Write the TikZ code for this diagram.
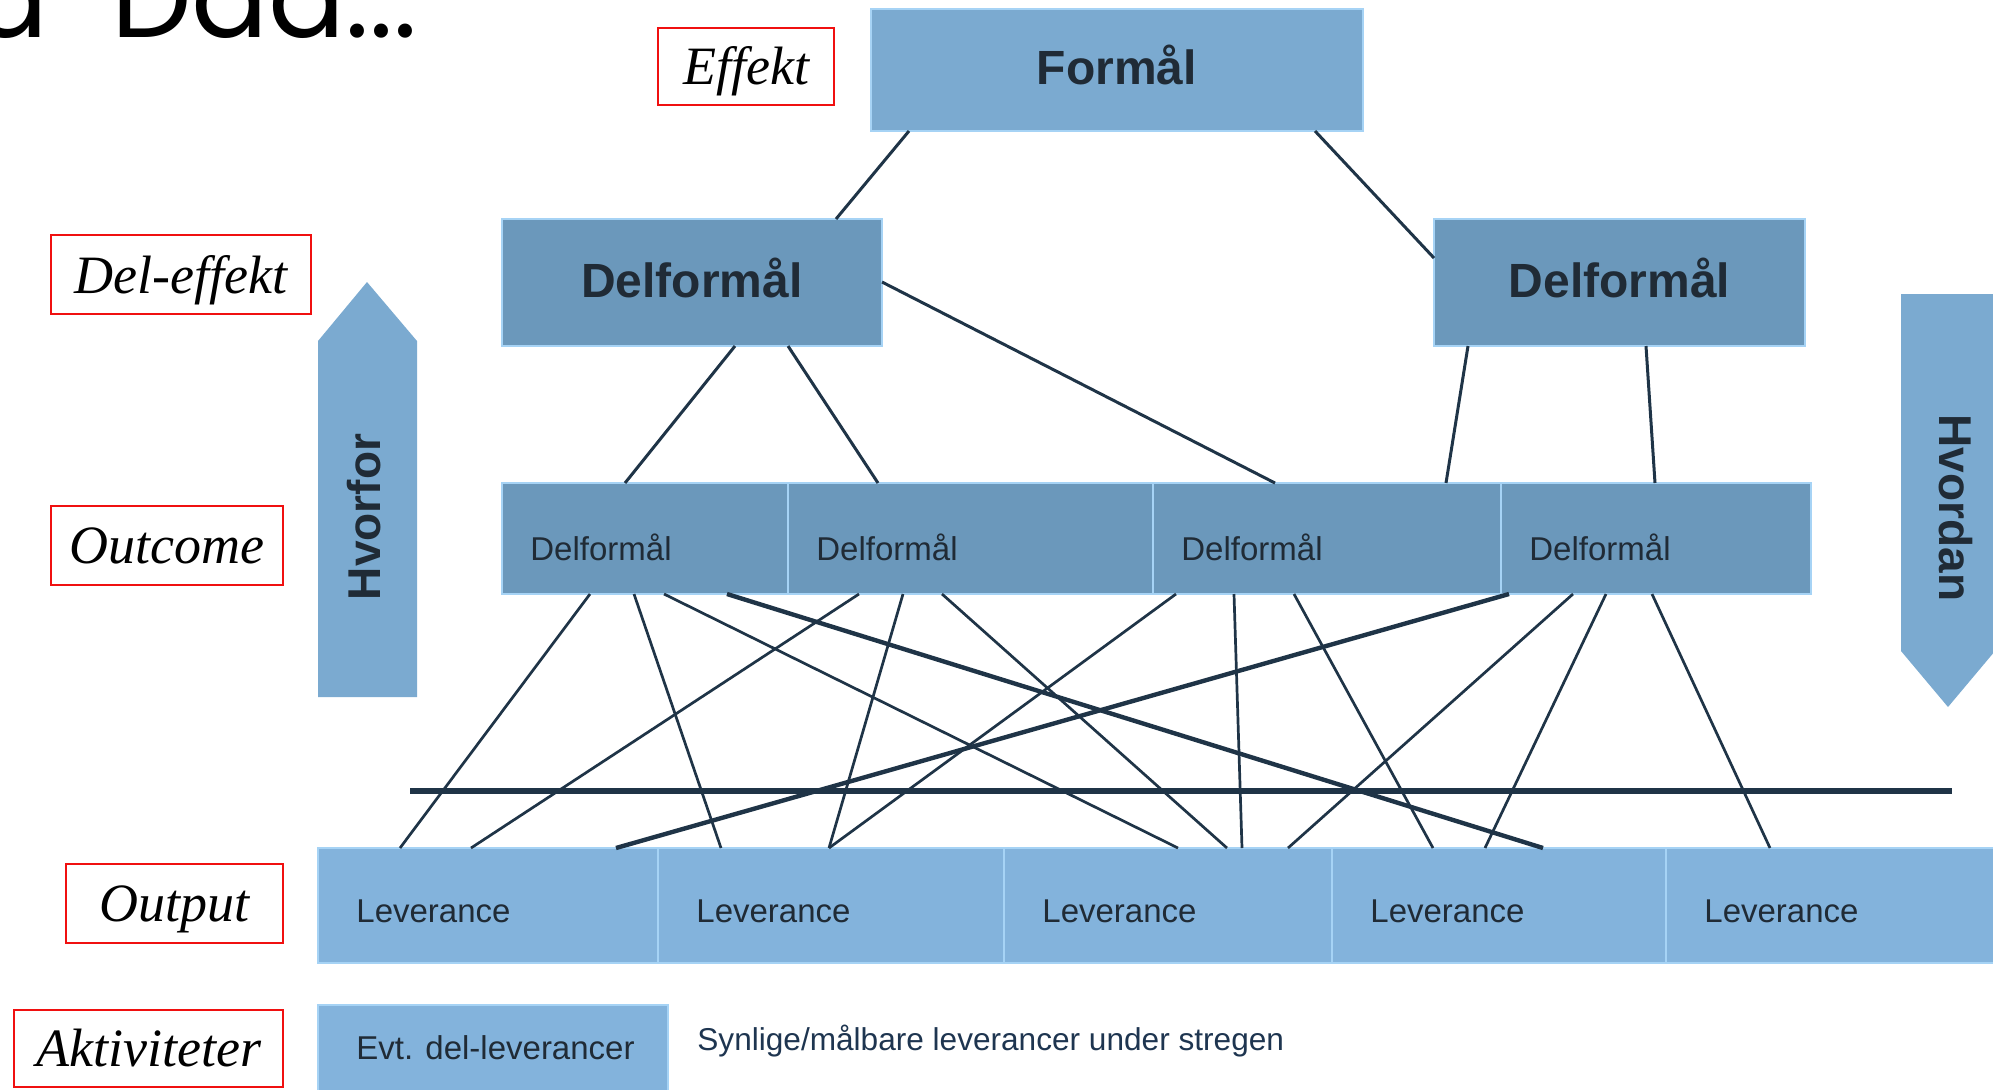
\documentclass[tikz,border=0pt]{standalone}
\usepackage{fontspec}
\setmainfont{Liberation Sans}
\newfontfamily\lblfont{Liberation Serif}
\newfontfamily\titlefont{Poppins}
\usetikzlibrary{fit,calc}
\definecolor{fcol}{HTML}{7BAAD0}
\definecolor{dcol}{HTML}{6B98BB}
\definecolor{lcol}{HTML}{83B3DC}
\definecolor{divc}{HTML}{A6D3F5}
\definecolor{linec}{HTML}{1F3447}
\definecolor{txtc}{HTML}{202B36}
\definecolor{subc}{HTML}{1E3550}
\definecolor{redc}{HTML}{F01010}
\tikzset{
  box/.style={inner sep=0pt, outer sep=0pt, draw=divc, line width=0.6pt},
  bigtext/.style={font=\fontsize{24}{28}\selectfont\bfseries, text=txtc, inner sep=0pt, yshift=2.5pt},
  smalltext/.style={font=\fontsize{16.5}{19}\selectfont, text=txtc, inner sep=0pt},
  redbox/.style={draw=redc, line width=1.3pt, inner sep=0pt, fill=white},
  redtext/.style={font=\lblfont\itshape\fontsize{27}{30}\selectfont, inner sep=0pt},
  con/.style={draw=linec, line width=1.35pt},
  topcon/.style={draw=linec, line width=1.5pt},
  thickcon/.style={draw=linec, line width=2.2pt},
  arrowfill/.style={fill=fcol},
  arrowtext/.style={font=\fontsize{23}{26}\selectfont\bfseries, text=txtc, inner sep=0pt}
}
\begin{document}
\begin{tikzpicture}[x=0.5pt,y=-0.5pt]
\useasboundingbox (0,0) rectangle (1993,1089);
% title fragment
\node[anchor=base east, inner sep=0pt, font=\titlefont\fontsize{57}{60}\selectfont] (title) at (418,37) {a-Dad...};
% red labels
\node[redbox, fit={(658,28) (834,105)}, label={[redtext, yshift=-2.5pt]center:Effekt}] (effekt) {};
\node[redbox, fit={(51,235) (311,314)}, label={[redtext, yshift=-3pt]center:Del-effekt}] (deleffekt) {};
\node[redbox, fit={(51,506) (283,585)}, label={[redtext]center:Outcome}] (outcome) {};
\node[redbox, fit={(66,864) (283,943)}, label={[redtext, yshift=-3pt]center:Output}] (output) {};
\node[redbox, fit={(14,1010) (283,1087)}, label={[redtext]center:Aktiviteter}] (aktiv) {};
% top boxes
\node[box, fill=fcol, fit={(871,9) (1363,131)}, label={[bigtext]center:Formål}] (f) {};
\node[box, fill=dcol, fit={(502,219) (882,346)}, label={[bigtext]center:Delformål}] (dL) {};
\node[box, fill=dcol, fit={(1434,219) (1805,346)}, label={[bigtext]center:Delformål}] (dR) {};
% outcome row
\foreach \n/\a/\b in {o1/502/788, o2/788/1153, o3/1153/1501, o4/1501/1811}{
  \node[box, fill=dcol, fit={(\a,483) (\b,594)},
    label={[smalltext, anchor=west, xshift=14pt, yshift=-4.5pt]west:Delformål}] (\n) {};
}
% leverance row
\foreach \n/\a/\b in {l1/318/658, l2/658/1004, l3/1004/1332, l4/1332/1666, l5/1666/2010}{
  \node[box, fill=lcol, fit={(\a,848) (\b,963)},
    label={[smalltext, anchor=west, xshift=19pt, yshift=-3pt]west:Leverance}] (\n) {};
}
% activities
\node[box, fill=lcol, fit={(318,1005) (668,1100)},
  label={[smalltext, anchor=west, xshift=19pt, yshift=2.5pt]west:Evt. del-leverancer}] (evt) {};
\node[smalltext, font=\fontsize{15.8}{19}\selectfont, text=subc, anchor=west] (synl) at (697,1041) {Synlige/målbare leverancer under stregen};
% side arrows
\fill[arrowfill] (318,341) -- (367,282) -- (417,341) -- (417,697) -- (318,697) -- cycle;
\node[arrowtext, rotate=90] (hvorfor) at (364,517) {Hvorfor};
\fill[arrowfill] (1901,294) -- (1995,294) -- (1995,651) -- (1948,707) -- (1901,651) -- cycle;
\node[arrowtext, rotate=-90] (hvordan) at (1956,508) {Hvordan};
% top connectors
\draw[topcon] (909,0 |- f.south) -- (836,0 |- dL.north);
\draw[topcon] (1315,0 |- f.south) -- (dR.west |- 0,258);
\draw[topcon] (dL.east |- 0,282) -- (1275,0 |- o3.north);
\draw[topcon] (735,0 |- dL.south) -- (625,0 |- o1.north);
\draw[topcon] (788,0 |- dL.south) -- (878,0 |- o2.north);
\draw[topcon] (1468,0 |- dR.south) -- (1446,0 |- o3.north);
\draw[topcon] (1646,0 |- dR.south) -- (1655,0 |- o4.north);
% outcome -> leverance
\draw[con] (590,0 |- o1.south) -- (400,0 |- l1.north);
\draw[con] (634,0 |- o1.south) -- (721,0 |- l2.north);
\draw[con] (664,0 |- o1.south) -- (1178,0 |- l3.north);
\draw[thickcon] (727,0 |- o1.south) -- (1543,0 |- l4.north);
\draw[con] (859,0 |- o2.south) -- (471,0 |- l1.north);
\draw[con] (903,0 |- o2.south) -- (829,0 |- l2.north);
\draw[con] (942,0 |- o2.south) -- (1227,0 |- l3.north);
\draw[con] (1176,0 |- o3.south) -- (829,0 |- l2.north);
\draw[con] (1234,0 |- o3.south) -- (1242,0 |- l3.north);
\draw[con] (1294,0 |- o3.south) -- (1433,0 |- l4.north);
\draw[thickcon] (1509,0 |- o4.south) -- (616,0 |- l1.north);
\draw[con] (1573,0 |- o4.south) -- (1288,0 |- l3.north);
\draw[con] (1606,0 |- o4.south) -- (1485,0 |- l4.north);
\draw[con] (1652,0 |- o4.south) -- (1770,0 |- l5.north);
% the line
\coordinate (sl) at (410,791);
\coordinate (sr) at (1952,791);
\draw[draw=linec, line width=3pt] (sl) -- (sr);
\end{tikzpicture}
\end{document}
